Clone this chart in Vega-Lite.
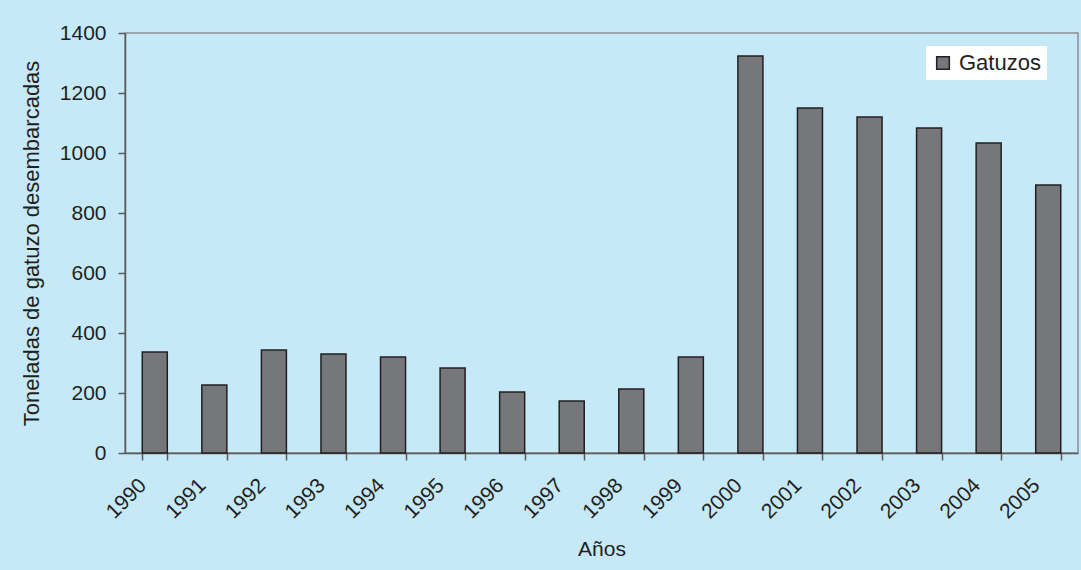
{
  "$schema": "https://vega.github.io/schema/vega-lite/v6.json",
  "autosize": "none",
  "width": 953,
  "height": 420,
  "padding": {"left": 125, "top": 33, "right": 3, "bottom": 117},
  "background": "#c6e9f8",
  "config": {
    "font": "Liberation Sans",
    "view": {"stroke": "#8e8f91", "strokeWidth": 1.5}
  },
  "data": {
    "values": [
      {"anio": "1990", "toneladas": 337, "serie": "Gatuzos"},
      {"anio": "1991", "toneladas": 227, "serie": "Gatuzos"},
      {"anio": "1992", "toneladas": 343, "serie": "Gatuzos"},
      {"anio": "1993", "toneladas": 330, "serie": "Gatuzos"},
      {"anio": "1994", "toneladas": 320, "serie": "Gatuzos"},
      {"anio": "1995", "toneladas": 283, "serie": "Gatuzos"},
      {"anio": "1996", "toneladas": 203, "serie": "Gatuzos"},
      {"anio": "1997", "toneladas": 173, "serie": "Gatuzos"},
      {"anio": "1998", "toneladas": 213, "serie": "Gatuzos"},
      {"anio": "1999", "toneladas": 320, "serie": "Gatuzos"},
      {"anio": "2000", "toneladas": 1323, "serie": "Gatuzos"},
      {"anio": "2001", "toneladas": 1150, "serie": "Gatuzos"},
      {"anio": "2002", "toneladas": 1120, "serie": "Gatuzos"},
      {"anio": "2003", "toneladas": 1083, "serie": "Gatuzos"},
      {"anio": "2004", "toneladas": 1033, "serie": "Gatuzos"},
      {"anio": "2005", "toneladas": 893, "serie": "Gatuzos"}
    ]
  },
  "mark": {"type": "bar", "stroke": "#231f20", "strokeWidth": 1.5},
  "encoding": {
    "x": {
      "field": "anio",
      "type": "ordinal",
      "title": "Años",
      "scale": {"paddingInner": 0.58, "paddingOuter": 0.29},
      "axis": {
        "labelAngle": -45,
        "labelBaseline": "middle",
        "labelAlign": "right",
        "labelOffset": -12,
        "labelFontSize": 21,
        "labelColor": "#231f20",
        "labelPadding": 22,
        "titleFontSize": 21,
        "titleFontWeight": "normal",
        "titleColor": "#231f20",
        "titlePadding": 16,
        "domainColor": "#58595b",
        "domainWidth": 1.5,
        "tickColor": "#58595b",
        "tickWidth": 1.5,
        "tickSize": 7,
        "tickBand": "extent"
      }
    },
    "y": {
      "field": "toneladas",
      "type": "quantitative",
      "title": "Toneladas de gatuzo desembarcadas",
      "scale": {"domain": [0, 1400]},
      "axis": {
        "values": [0, 200, 400, 600, 800, 1000, 1200, 1400],
        "format": "d",
        "grid": false,
        "labelFontSize": 21,
        "labelColor": "#231f20",
        "labelPadding": 12,
        "titleFontSize": 22,
        "titleFontWeight": "normal",
        "titleColor": "#231f20",
        "titlePadding": 16,
        "domainColor": "#58595b",
        "domainWidth": 1.5,
        "tickColor": "#58595b",
        "tickWidth": 1.5,
        "tickSize": 7
      }
    },
    "color": {
      "field": "serie",
      "type": "nominal",
      "scale": {"range": ["#76777b"]},
      "legend": {
        "title": null,
        "orient": "none",
        "legendX": 801,
        "legendY": 13,
        "fillColor": "white",
        "padding": 6,
        "symbolType": "square",
        "symbolSize": 160,
        "symbolStrokeColor": "#231f20",
        "symbolStrokeWidth": 1.5,
        "symbolOpacity": 1,
        "labelFontSize": 22,
        "labelColor": "#231f20",
        "labelOffset": 5
      }
    }
  }
}
